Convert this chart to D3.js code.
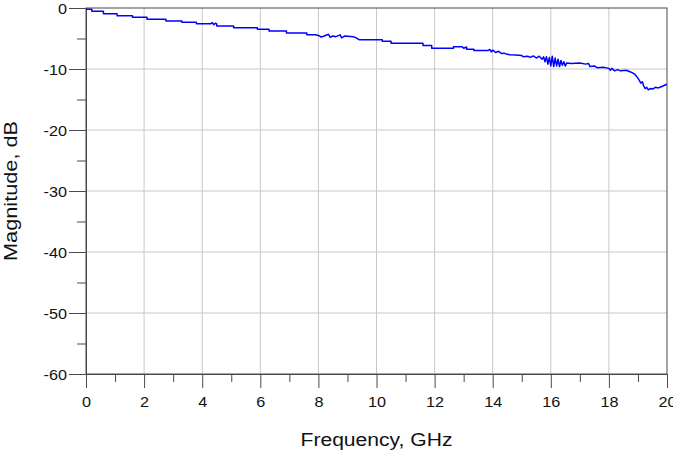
<!DOCTYPE html>
<html>
<head>
<meta charset="utf-8">
<script src="https://cdn.jsdelivr.net/npm/d3@7"></script>
<style>
  body { margin: 0; background: #fff; }
  svg { display: block; font-family: "Liberation Sans", Arial, sans-serif; }
</style>
</head>
<body>
<div id="chart"></div>
<script>
// frequency (GHz) and magnitude (dB)
const freq = [
  0, 0.2, 0.2, 0.6, 0.6, 1.07, 1.07, 1.6, 1.6, 2.1, 2.1, 2.75, 2.75, 3.3, 3.3, 3.8, 3.8, 4.3,
  4.35, 4.4, 4.45, 4.5, 4.5, 5.08, 5.08, 5.9, 5.9, 6.3, 6.3, 6.9, 6.9, 7.6, 7.6, 7.9,
  8.0, 8.1, 8.2, 8.35, 8.4, 8.5, 8.6, 8.75, 8.8, 8.9, 9.2, 9.3, 9.4, 10.2, 10.2, 10.5, 10.5,
  11.6, 11.6, 11.9, 11.9, 12.65, 12.65, 12.95, 13.0, 13.1, 13.1, 13.35, 13.35, 13.85,
  13.9, 13.95, 14.0, 14.1, 14.2, 14.3, 14.4, 14.5, 14.6, 14.8, 15.0, 15.05, 15.2, 15.3, 15.4,
  15.5, 15.6, 15.7, 15.75, 15.8, 15.85, 15.9, 15.95, 16.0, 16.05, 16.1, 16.15, 16.2, 16.25,
  16.3, 16.35, 16.4, 16.45, 16.5, 16.55, 16.7, 17.0, 17.2, 17.3, 17.35, 17.5, 17.6, 17.8,
  18.0, 18.05, 18.1, 18.2, 18.3, 18.4, 18.6, 18.7, 18.8, 18.9, 19.0, 19.05, 19.1, 19.15,
  19.2, 19.25, 19.3, 19.35, 19.45, 19.5, 19.6, 19.7, 19.8, 19.9, 20
];
const magnitude = [
  -0.2, -0.2, -0.55, -0.55, -0.93, -0.93, -1.26, -1.26, -1.53, -1.53, -1.86, -1.86, -2.14, -2.14, -2.35, -2.35, -2.57, -2.57,
  -2.4, -2.75, -2.5, -2.6, -2.95, -2.95, -3.23, -3.23, -3.5, -3.5, -3.78, -3.78, -4.1, -4.1, -4.38, -4.38,
  -4.5, -4.75, -4.6, -4.3, -4.8, -4.6, -4.7, -4.4, -4.9, -4.6, -4.7, -4.9, -5.2, -5.2, -5.47, -5.47, -5.78,
  -5.78, -6.13, -6.13, -6.6, -6.6, -6.35, -6.35, -6.6, -6.4, -6.75, -6.75, -6.95, -6.95,
  -6.8, -7.2, -6.9, -7.3, -7.1, -7.45, -7.4, -7.6, -7.65, -7.7, -7.8, -8.0, -7.9, -8.1, -7.85,
  -8.2, -7.9, -8.4, -8.0, -8.8, -8.0, -9.2, -8.1, -9.5, -7.9, -9.6, -8.2, -9.5, -8.4,
  -9.6, -8.6, -9.4, -8.8, -9.5, -9.0, -9.1, -9.0, -9.2, -9.1, -9.6, -9.5, -9.8, -9.7,
  -9.9, -10.2, -9.9, -10.3, -10.1, -10.3, -10.2, -10.4, -10.6, -10.9, -11.5, -11.9, -12.3, -12.1,
  -12.8, -13.2, -13.0, -13.4, -13.2, -13.3, -13.0, -13.1, -12.9, -12.7, -12.5
];
const xTicks = [0, 2, 4, 6, 8, 10, 12, 14, 16, 18, 20];
const xMinor = [1, 3, 5, 7, 9, 11, 13, 15, 17, 19];
const yTicks = [0, -10, -20, -30, -40, -50, -60];
const yMinor = [-5, -15, -25, -35, -45, -55];

const width = 673, height = 450;
const margin = { top: 8, right: 6, bottom: 76, left: 86 };

const svg = d3.select('#chart').append('svg')
  .attr('width', width)
  .attr('height', height);

const x = d3.scaleLinear().domain([0, 20]).range([margin.left, width - margin.right]);
const y = d3.scaleLinear().domain([-60, 0]).range([height - margin.bottom, margin.top]);

const axisColor = '#4a4a4a';
const gridColor = '#c8c8c8';
const fmt = d => String(d);   // plain hyphen minus, as in the original

// grid
svg.append('g').selectAll('line')
  .data(xTicks.slice(1, -1))
  .join('line')
  .attr('x1', d => x(d)).attr('x2', d => x(d))
  .attr('y1', y(0)).attr('y2', y(-60))
  .attr('stroke', gridColor).attr('stroke-width', 1);

svg.append('g').selectAll('line')
  .data(yTicks.slice(1, -1))
  .join('line')
  .attr('y1', d => y(d)).attr('y2', d => y(d))
  .attr('x1', x(0)).attr('x2', x(20))
  .attr('stroke', gridColor).attr('stroke-width', 1);

// frame (top / right)
svg.append('rect')
  .attr('x', x(0)).attr('y', y(0))
  .attr('width', x(20) - x(0)).attr('height', y(-60) - y(0))
  .attr('fill', 'none').attr('stroke', axisColor).attr('stroke-width', 1);

// axes
svg.append('g')
  .attr('transform', `translate(0,${y(-60)})`)
  .call(d3.axisBottom(x).tickValues(xTicks).tickSize(14).tickPadding(8).tickFormat(fmt));
svg.append('g')
  .attr('transform', `translate(0,${y(-60)})`)
  .call(d3.axisBottom(x).tickValues(xMinor).tickSize(8).tickFormat(''))
  .call(g => g.select('.domain').remove());

const yAxis = svg.append('g')
  .attr('transform', `translate(${x(0)},0)`)
  .call(d3.axisLeft(y).tickValues(yTicks).tickSize(17).tickPadding(2).tickFormat(fmt));
svg.append('g')
  .attr('transform', `translate(${x(0)},0)`)
  .call(d3.axisLeft(y).tickValues(yMinor).tickSize(9).tickFormat(''))
  .call(g => g.select('.domain').remove());

svg.selectAll('.domain, .tick line').attr('stroke', axisColor);
svg.selectAll('.tick text')
  .attr('fill', '#111')
  .style('font-size', '15px')
  .style('font-family', '"Liberation Sans", Arial, sans-serif')
  .each(function () {
    // the original glyphs are a bit wider than Arial
    const w = this.getComputedTextLength();
    if (w > 0) d3.select(this).attr('textLength', w * 1.08).attr('lengthAdjust', 'spacingAndGlyphs');
  });
yAxis.selectAll('.tick text').attr('dy', '0.36em');

// curve
const pts = freq.map((f, i) => [f, magnitude[i]]);
svg.append('path')
  .datum(pts)
  .attr('fill', 'none')
  .attr('stroke', '#0000ff')
  .attr('stroke-width', 1.5)
  .attr('stroke-linejoin', 'round')
  .attr('d', d3.line().x(d => x(d[0])).y(d => y(d[1])));

// axis titles
svg.append('text')
  .attr('x', (x(0) + x(20)) / 2)
  .attr('y', 446)
  .attr('text-anchor', 'middle')
  .attr('fill', '#111')
  .attr('textLength', 152)
  .attr('lengthAdjust', 'spacingAndGlyphs')
  .style('font-size', '18px')
  .text('Frequency, GHz');

svg.append('text')
  .attr('transform', `translate(17,${(y(0) + y(-60)) / 2}) rotate(-90)`)
  .attr('text-anchor', 'middle')
  .attr('fill', '#111')
  .attr('textLength', 140)
  .attr('lengthAdjust', 'spacingAndGlyphs')
  .style('font-size', '18px')
  .text('Magnitude, dB');
</script>
</body>
</html>
